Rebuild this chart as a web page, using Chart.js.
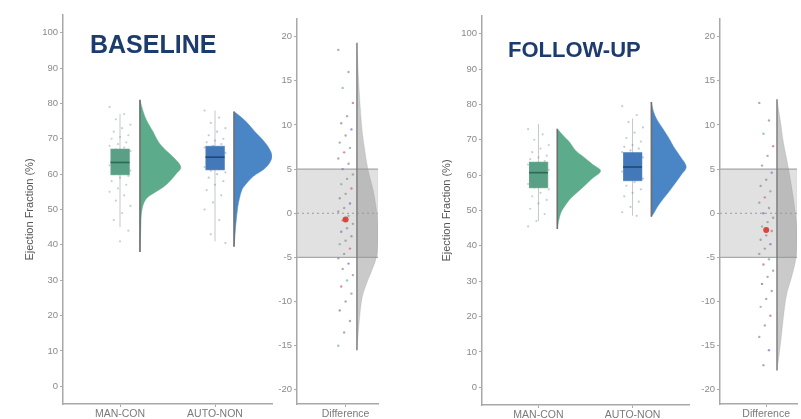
<!DOCTYPE html>
<html>
<head>
<meta charset="utf-8">
<script src="https://cdn.jsdelivr.net/npm/chart.js@4.4.1/dist/chart.umd.min.js"></script>
<style>
body { margin: 0; background: #fff; }
#wrap { position: relative; width: 801px; height: 419px; overflow: hidden; }
canvas { position: absolute; left: 0; top: 0; }
.ttl { position: absolute; font-family: "Liberation Sans", Arial, sans-serif; font-weight: bold; color: #1d3c6e; line-height: 24px; white-space: nowrap; }
</style>
</head>
<body>
<div id="wrap">
  <canvas id="c1" width="801" height="419"></canvas>
  <canvas id="c2" width="801" height="419"></canvas>
  <canvas id="c3" width="801" height="419"></canvas>
  <canvas id="c4" width="801" height="419"></canvas>
  <div class="ttl" style="left:90px;top:32px;font-size:25px">BASELINE</div>
  <div class="ttl" style="left:508px;top:38px;font-size:22px">FOLLOW-UP</div>
</div>
<script>
// categories and ticks
var groups = ['MAN-CON', 'AUTO-NON'];
var diffLabel = ['Difference'];
var efTicks = [0, 10, 20, 30, 40, 50, 60, 70, 80, 90, 100];
var diffTicks = [-20, -15, -10, -5, 0, 5, 10, 15, 20];
var yTitle = 'Ejection Fraction (%)';

// box stats: [whisker low, q1, median, q3, whisker high]
var baseManBox = [45, 59.8, 63.3, 67.1, 77];
var baseAutoBox = [41, 61.2, 64.8, 67.9, 78];
var fuManBox = [47, 56.4, 60.7, 63.7, 74.5];
var fuAutoBox = [48.5, 58.4, 62.3, 66.4, 76];

// half violins: values (top to bottom) and relative width
var baseManV = [81, 78, 75, 72, 69, 67, 65, 62, 60, 58, 56.5, 55, 53, 50, 45, 38];
var baseManW = [0, .07, .17, .32, .46, .61, .8, 1, .88, .73, .59, .39, .15, .05, .02, 0];
var baseAutoV = [77.7, 76, 74.6, 72, 70.6, 68, 65, 62, 59.3, 57, 55.6, 53, 50.8, 46, 42, 39.5];
var baseAutoW = [0, .2, .34, .55, .68, .88, 1, .85, .5, .3, .21, .14, .1, .05, .02, 0];
var fuManV = [73.1, 71, 69.4, 67, 65.4, 63, 61.2, 59, 57, 55, 53.3, 51, 49.6, 47, 44.8];
var fuManW = [0, .15, .28, .42, .58, .82, 1, .8, .63, .45, .3, .16, .09, .03, 0];
var fuAutoV = [80.7, 78, 75.9, 73, 70.5, 68.2, 65, 62.3, 60, 57, 55, 53.3, 51, 49.6, 48.2];
var fuAutoW = [0, .06, .15, .34, .5, .63, .85, 1, .85, .63, .48, .34, .17, .09, 0];
var baseDiffV = [19.3, 15, 10, 7.5, 5, 2.5, 0, -1.5, -3, -5, -6.5, -8, -9.5, -12, -15.5];
var baseDiffW = [0, .08, .22, .35, .52, .78, .95, 1, 1, .92, .7, .45, .25, .12, 0];
var fuDiffV = [12.9, 10, 8.3, 5, 2, 0, -2, -5, -7.3, -9, -11, -14.7, -17.8];
var fuDiffW = [0, .2, .3, .58, .8, .92, 1, .95, .72, .5, .36, .18, 0];

// raw points
var baseManPts = [79, 77, 75.5, 74, 73, 72, 71, 70.5, 70, 69, 68.5, 68, 67.5, 67, 66.5, 66, 65.5, 65, 64.5, 64, 63.5, 63, 62.5, 62, 61.5, 61, 60.5, 60, 59.5, 59, 58, 57, 56, 55, 54, 52.5, 51, 49, 47, 44, 41];
var baseAutoPts = [78, 76, 74.5, 73, 72, 71, 70, 69.5, 69, 68.5, 68, 67.5, 67, 66.5, 66, 65.5, 65, 64.5, 64, 63.5, 63, 62.5, 62, 61.5, 61, 60.5, 60, 59, 58, 57, 55.5, 54, 52, 50, 47, 43, 40.5];
var fuManPts = [73, 71.5, 70, 68.5, 67.5, 66.5, 65.5, 65, 64.5, 64, 63.5, 63, 62.5, 62, 61.5, 61, 60.5, 60, 59.5, 59, 58.5, 58, 57.5, 57, 56.5, 56, 55, 54, 53, 52, 50.5, 49, 47, 45.5];
var fuAutoPts = [79.5, 77, 75, 73.5, 72, 70.5, 69.5, 68.5, 68, 67.5, 67, 66.5, 66, 65.5, 65, 64.5, 64, 63.5, 63, 62.5, 62, 61.5, 61, 60.5, 60, 59, 58, 57, 56, 55, 54, 52.5, 51, 49.5, 48.5];
var baseDiffPts = [18.5, 16, 14.2, 12.5, 11, 10.2, 9.5, 8.8, 8, 7.4, 6.9, 6.2, 5.6, 5, 4.4, 3.9, 3.3, 2.8, 2.2, 1.7, 1.1, 0.6, 0.2, -0.3, -0.8, -1.2, -1.7, -2.1, -2.6, -3.1, -3.5, -4, -4.6, -5.1, -5.7, -6.3, -7, -7.6, -8.3, -9.1, -10, -11, -12.2, -13.5, -15];
var fuDiffPts = [12.5, 10.5, 9, 7.6, 6.5, 5.4, 4.6, 3.8, 3.1, 2.5, 1.8, 1.2, 0.6, 0, -0.5, -1, -1.5, -2, -2.5, -3, -3.5, -4, -4.6, -5.2, -5.8, -6.5, -7.2, -8, -8.8, -9.7, -10.6, -11.6, -12.7, -14, -15.5, -17.2];
var baseDiffMean = -0.7;
var fuDiffMean = -1.9;
var diffBand = [-5, 5];

Chart.defaults.font.family = '"Liberation Sans", Arial, sans-serif';

var GREEN = '#5cab8b', GREEN_BOX = '#5aa086', GREEN_MED = '#2d6a55';
var BLUE = '#4a86c6', BLUE_BOX = '#4379b8', BLUE_MED = '#22477a';

function jit(i, amp) {
  return (((i * 7) % 11) - 5) / 5 * amp;
}

function poly(pts, color, order, tension) {
  return { data: pts, showLine: true, fill: 'shape', backgroundColor: color, borderColor: color,
    borderWidth: 0.5, pointRadius: 0, tension: tension || 0, order: order };
}
function seg(pts, color, width, order, dash) {
  return { data: pts, showLine: true, fill: false, borderColor: color, borderWidth: width,
    borderDash: dash || [], pointRadius: 0, order: order };
}
function dots(pts, colors, r, order) {
  return { data: pts, showLine: false, pointRadius: r, backgroundColor: colors,
    pointBorderWidth: 0, borderWidth: 0, order: order };
}

// curve only; the fill closes back along the base line
function violin(vals, widths, base, maxW, color) {
  var pts = vals.map(function (v, i) { return { x: base + widths[i] * maxW, y: v }; });
  return [
    poly(pts, color, 3, 0.35),
    seg([{ x: base, y: vals[0] }, { x: base, y: vals[vals.length - 1] }], '#6f6f6f', 1.6, 2)
  ];
}

function boxplot(s, c, fill, med) {
  var hw = 0.1;
  return [
    seg([{ x: c, y: s[0] }, { x: c, y: s[4] }], 'rgba(130,130,130,0.45)', 1, 2),
    poly([{ x: c - hw, y: s[1] }, { x: c + hw, y: s[1] }, { x: c + hw, y: s[3] }, { x: c - hw, y: s[3] }], fill, 1),
    seg([{ x: c - hw, y: s[2] }, { x: c + hw, y: s[2] }], med, 1.6, 0)
  ];
}

function rawDots(vals, c, color) {
  var pts = vals.map(function (v, i) { return { x: c + jit(i, 0.11), y: v }; });
  return dots(pts, color, 1.1, 4);
}

function diffSets(vals, mean, vV, vW) {
  var cx = 0.6, vb = 0.74;
  var palette = ['rgba(140,140,140,0.7)', 'rgba(140,140,140,0.7)', 'rgba(205,110,120,0.75)',
    'rgba(140,140,140,0.7)', 'rgba(110,130,190,0.75)', 'rgba(140,140,140,0.7)', 'rgba(120,175,140,0.7)'];
  var pts = vals.map(function (v, i) { return { x: cx + jit(i, 0.09), y: v }; });
  var cols = vals.map(function (v, i) { return palette[(i * 3) % palette.length]; });
  return [
    poly([{ x: 0, y: diffBand[0] }, { x: 1, y: diffBand[0] }, { x: 1, y: diffBand[1] }, { x: 0, y: diffBand[1] }],
      'rgba(200,200,200,0.55)', 10),
    seg([{ x: 0, y: diffBand[1] }, { x: 1, y: diffBand[1] }], '#a9a9a9', 1.2, 9),
    seg([{ x: 0, y: diffBand[0] }, { x: 1, y: diffBand[0] }], '#a9a9a9', 1.2, 9),
    seg([{ x: 0, y: 0 }, { x: 1, y: 0 }], '#9a9a9a', 1.2, 9, [2, 3]),
    dots(pts, cols, 1.2, 4),
    poly(vV.map(function (v, i) { return { x: vb + vW[i] * 0.26, y: v }; }), 'rgba(150,150,150,0.5)', 3, 0.35),
    seg([{ x: vb, y: vV[0] }, { x: vb, y: vV[vV.length - 1] }], '#7a7a7a', 1.4, 2),
    dots([{ x: cx, y: mean }], '#d9463e', 3, 0)
  ];
}

function panel(id, g) {
  var W = 801, H = 419;
  new Chart(document.getElementById(id), {
    type: 'scatter',
    data: { datasets: g.datasets },
    options: {
      responsive: false, animation: false, devicePixelRatio: 1,
      layout: { padding: { left: g.left - g.yWidth, right: W - g.right, top: g.top, bottom: 0 } },
      plugins: { legend: { display: false }, tooltip: { enabled: false } },
      scales: {
        x: {
          type: 'linear', min: g.xMin, max: g.xMax,
          afterBuildTicks: function (s) { s.ticks = g.xTicks.map(function (v) { return { value: v }; }); },
          afterFit: function (s) { s.height = H - g.bottom; },
          ticks: { color: '#7a7a7a', font: { size: 10.5 }, padding: 1, autoSkip: false, maxRotation: 0,
            callback: function (v, i) { return g.xLabels[i]; } },
          grid: { display: true, drawOnChartArea: false, drawTicks: true, tickLength: 3, color: '#aaa' },
          border: { display: true, color: '#a8a8a8', width: 1.5 }
        },
        y: {
          type: 'linear', min: g.yMin, max: g.yMax,
          afterBuildTicks: function (s) { s.ticks = g.yTicks.map(function (v) { return { value: v }; }); },
          afterFit: function (s) { s.width = g.yWidth; },
          ticks: { color: '#8a8a8a', font: { size: 9.5 }, padding: 2, autoSkip: false },
          grid: { display: true, drawOnChartArea: false, drawTicks: true, tickLength: 3, color: '#aaa' },
          border: { display: true, color: '#a8a8a8', width: 1.5 },
          title: { display: !!g.yTitle, text: g.yTitle || '', color: '#555', font: { size: 11 }, padding: { top: 4, bottom: 0 } }
        }
      }
    }
  });
}

// baseline main
panel('c1', {
  left: 63, right: 272, top: 15, bottom: 404, yWidth: 44,
  xMin: 0.4, xMax: 2.6, xTicks: [1, 2], xLabels: groups,
  yMin: -5, yMax: 105, yTicks: efTicks, yTitle: yTitle,
  datasets: [].concat(
    [rawDots(baseManPts, 1, 'rgba(120,160,140,0.45)'), rawDots(baseAutoPts, 2, 'rgba(110,140,180,0.45)')],
    boxplot(baseManBox, 1, GREEN_BOX, GREEN_MED), boxplot(baseAutoBox, 2, BLUE_BOX, BLUE_MED),
    violin(baseManV, baseManW, 1.21, 0.43, GREEN), violin(baseAutoV, baseAutoW, 2.2, 0.4, BLUE))
});

// baseline difference
panel('c2', {
  left: 297, right: 378, top: 19, bottom: 404, yWidth: 30,
  xMin: 0, xMax: 1, xTicks: [0.6], xLabels: diffLabel,
  yMin: -21.6, yMax: 22.0, yTicks: diffTicks,
  datasets: diffSets(baseDiffPts, baseDiffMean, baseDiffV, baseDiffW)
});

// follow-up main
panel('c3', {
  left: 482, right: 689, top: 16, bottom: 405, yWidth: 46,
  xMin: 0.4, xMax: 2.6, xTicks: [1, 2], xLabels: groups,
  yMin: -5, yMax: 105, yTicks: efTicks, yTitle: yTitle,
  datasets: [].concat(
    [rawDots(fuManPts, 1, 'rgba(120,160,140,0.45)'), rawDots(fuAutoPts, 2, 'rgba(110,140,180,0.45)')],
    boxplot(fuManBox, 1, GREEN_BOX, GREEN_MED), boxplot(fuAutoBox, 2, BLUE_BOX, BLUE_MED),
    violin(fuManV, fuManW, 1.2, 0.46, GREEN), violin(fuAutoV, fuAutoW, 2.2, 0.37, BLUE))
});

// follow-up difference
panel('c4', {
  left: 720, right: 801, top: 19, bottom: 404, yWidth: 30,
  xMin: 0, xMax: 1, xTicks: [0.6], xLabels: diffLabel,
  yMin: -21.6, yMax: 22.0, yTicks: diffTicks,
  datasets: diffSets(fuDiffPts, fuDiffMean, fuDiffV, fuDiffW)
});
</script>
</body>
</html>
